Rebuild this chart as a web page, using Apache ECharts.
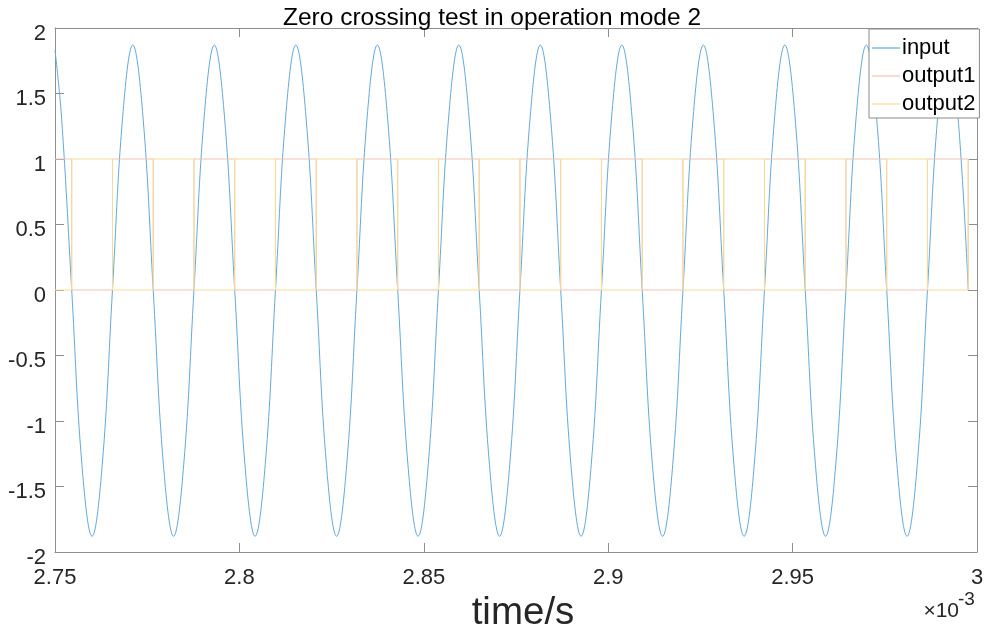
<!DOCTYPE html>
<html>
<head>
<meta charset="utf-8">
<script src="https://cdn.jsdelivr.net/npm/echarts@6/dist/echarts.min.js"></script>
<style>
html,body{margin:0;padding:0;background:#fff;}
#chart{width:984px;height:632px;}
</style>
</head>
<body>
<div id="chart"></div>
<script>
// ---- data (time in units of 1e-3 s) ----
var titleText = 'Zero crossing test in operation mode 2';
var seriesNames = ['input', 'output1', 'output2'];
var xTickLabels = ['2.75', '2.8', '2.85', '2.9', '2.95', '3'];
var yTickLabels = ['-2', '-1.5', '-1', '-0.5', '0', '0.5', '1', '1.5', '2'];

var inputTime = [
  2.75000, 2.75177, 2.75453, 2.75729, 2.76005, 2.76282, 2.76558, 2.76834,
  2.77110, 2.77386, 2.77663, 2.77939, 2.78215, 2.78491, 2.78768, 2.79044,
  2.79320, 2.79596, 2.79873, 2.80149, 2.80425, 2.80701, 2.80978, 2.81254,
  2.81530, 2.81806, 2.82083, 2.82359, 2.82635, 2.82911, 2.83187, 2.83464,
  2.83740, 2.84016, 2.84292, 2.84569, 2.84845, 2.85121, 2.85397, 2.85674,
  2.85950, 2.86226, 2.86502, 2.86779, 2.87055, 2.87331, 2.87607, 2.87884,
  2.88160, 2.88436, 2.88712, 2.88988, 2.89265, 2.89541, 2.89817, 2.90093,
  2.90370, 2.90646, 2.90922, 2.91198, 2.91475, 2.91751, 2.92027, 2.92303,
  2.92580, 2.92856, 2.93132, 2.93408, 2.93685, 2.93961, 2.94237, 2.94513,
  2.94789, 2.95066, 2.95342, 2.95618, 2.95894, 2.96171, 2.96447, 2.96723,
  2.96999, 2.97276, 2.97552, 2.97828, 2.98104, 2.98381, 2.98657, 2.98933,
  2.99209, 2.99485, 2.99762
];
var inputValue = [
  1.83, 1.32, 0, -1.33, -1.88, -1.33, 0, 1.32,
  1.87, 1.32, 0, -1.33, -1.88, -1.33, 0, 1.32,
  1.87, 1.32, 0, -1.33, -1.88, -1.33, 0, 1.32,
  1.87, 1.32, 0, -1.33, -1.88, -1.33, 0, 1.32,
  1.87, 1.32, 0, -1.33, -1.88, -1.33, 0, 1.32,
  1.87, 1.32, 0, -1.33, -1.88, -1.33, 0, 1.32,
  1.87, 1.32, 0, -1.33, -1.88, -1.33, 0, 1.32,
  1.87, 1.32, 0, -1.33, -1.88, -1.33, 0, 1.32,
  1.87, 1.32, 0, -1.33, -1.88, -1.33, 0, 1.32,
  1.87, 1.32, 0, -1.33, -1.88, -1.33, 0, 1.32,
  1.87, 1.32, 0, -1.33, -1.88, -1.33, 0, 1.32,
  1.87, 1.32, 0
];

var outputTime = [
  2.75000, 2.75453, 2.76558, 2.77663, 2.78768, 2.79873, 2.80978, 2.82083,
  2.83187, 2.84292, 2.85397, 2.86502, 2.87607, 2.88712, 2.89817, 2.90922,
  2.92027, 2.93132, 2.94237, 2.95342, 2.96447, 2.97552, 2.98657, 2.99762
];
var output1Value = [1,0,1,0,1,0,1,0,1,0,1,0,1,0,1,0,1,0,1,0,1,0,1,0];
var output2Value = [0,1,0,1,0,1,0,1,0,1,0,1,0,1,0,1,0,1,0,1,0,1,0,1];

function pairs(xs, ys){ return xs.map(function(x,i){ return [x, ys[i]]; }); }

var FONT = '"Liberation Sans", Arial, Helvetica, sans-serif';
var AXC = '#8f8f8f';
var TXT = '#262626';
var COLORS = ['#62aadc', '#f0c3b3', '#f6dc96'];

var chart = echarts.init(document.getElementById('chart'), null, {renderer:'canvas'});

var axisCommonX = {
  type: 'value', min: 2.75, max: 3, interval: 0.05,
  axisLine: {show: true, onZero: false, lineStyle: {color: AXC, width: 1}},
  axisTick: {show: true, inside: true, length: 9, lineStyle: {color: AXC}},
  splitLine: {show: false}
};
var axisCommonY = {
  type: 'value', min: -2, max: 2, interval: 0.5,
  axisLine: {show: true, onZero: false, lineStyle: {color: AXC, width: 1}},
  axisTick: {show: true, inside: true, length: 9, lineStyle: {color: AXC}},
  splitLine: {show: false}
};

chart.setOption({
  animation: false,
  backgroundColor: '#fff',
  color: COLORS,
  title: {
    text: titleText, left: 'center', top: 1,
    textStyle: {fontFamily: FONT, fontSize: 24.5, fontWeight: 'normal', color: '#000'}
  },
  grid: {left: 55, right: 7, top: 28, bottom: 80, containLabel: false, outerBoundsMode: 'none'},
  legend: {
    data: seriesNames,
    orient: 'vertical', left: 869, top: 29,
    icon: 'rect',
    itemWidth: 28, itemHeight: 1.2, itemGap: 0,
    padding: [5, 4, 0, 3],
    backgroundColor: '#fff', borderColor: '#8a8a8a', borderWidth: 1,
    textStyle: {fontFamily: FONT, fontSize: 22, color: '#000', lineHeight: 28, padding: [0,0,0,-3]}
  },
  xAxis: [
    Object.assign({}, axisCommonX, {
      position: 'bottom',
      name: 'time/s', nameLocation: 'middle', nameGap: 33,
      nameTextStyle: {fontFamily: FONT, fontSize: 38.5, color: TXT, padding: [0,0,0,14]},
      axisLabel: {show: true, margin: 15, fontFamily: FONT, fontSize: 22, color: TXT,
        formatter: function(v){ var i = Math.round((v - 2.75) / 0.05); return xTickLabels[i]; }}
    }),
    Object.assign({}, axisCommonX, {position: 'top', axisLabel: {show: false}})
  ],
  yAxis: [
    Object.assign({}, axisCommonY, {
      position: 'left',
      axisLabel: {show: true, margin: 9, fontFamily: FONT, fontSize: 22, color: TXT,
        verticalAlign: 'top', lineHeight: 11,
        formatter: function(v){ var i = Math.round((v + 2) / 0.5); return yTickLabels[i]; }}
    }),
    Object.assign({}, axisCommonY, {position: 'right', axisLabel: {show: false}})
  ],
  graphic: [
    {type: 'text', x: 959, y: 611,
     style: {text: '\u00d710', fontFamily: FONT, fontSize: 21, fill: TXT, align: 'right', verticalAlign: 'middle'}},
    {type: 'text', x: 958, y: 600,
     style: {text: '-3', fontFamily: FONT, fontSize: 19, fill: TXT, align: 'left', verticalAlign: 'middle'}}
  ],
  series: [
    {name: seriesNames[0], type: 'line', data: pairs(inputTime, inputValue),
     symbol: 'none', smooth: 0.4, lineStyle: {color: COLORS[0], width: 1}, itemStyle: {color: COLORS[0]}},
    {name: seriesNames[1], type: 'line', data: pairs(outputTime, output1Value),
     symbol: 'none', step: 'end', lineStyle: {color: COLORS[1], width: 1}, itemStyle: {color: COLORS[1]}},
    {name: seriesNames[2], type: 'line', data: pairs(outputTime, output2Value),
     symbol: 'none', step: 'end', lineStyle: {color: COLORS[2], width: 1}, itemStyle: {color: COLORS[2]}}
  ]
});
</script>
</body>
</html>
